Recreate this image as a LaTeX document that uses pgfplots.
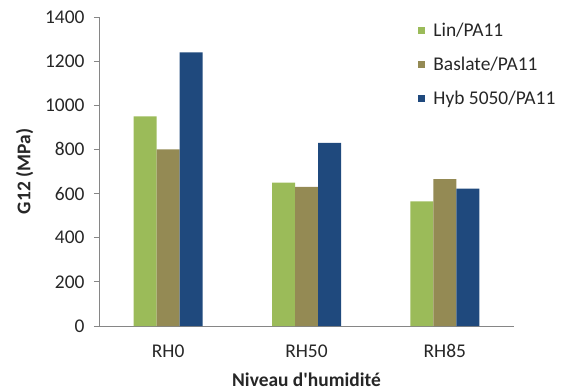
\documentclass[border=0pt]{standalone}
\usepackage{pgfplots}
\pgfplotsset{compat=1.18}
\usepackage{fontspec}
\setmainfont{Carlito}[Ligatures=TeXOff]
\definecolor{lin}{HTML}{9BBB59}
\definecolor{bas}{HTML}{948A54}
\definecolor{hyb}{HTML}{1F497D}
\definecolor{axgray}{HTML}{868686}
\newcommand{\fs}{\fontsize{19.5}{22}\selectfont}
\begin{document}
\begin{tikzpicture}
\begin{axis}[
    at={(0,0)}, anchor=south west,
    scale only axis,
    width=415bp, height=309bp,
    ybar=0pt, bar width=23bp,
    xmin=0, xmax=3,
    ymin=0, ymax=1400,
    ytick distance=200,
    xtick={0.5,1.5,2.5},
    xticklabels={RH0,RH50,RH85},
    axis x line*=bottom, axis y line*=left,
    axis line style={axgray, line width=0.8pt},
    x axis line style={-}, y axis line style={-},
    major x tick style={draw=none},
    major y tick style={axgray, line width=0.8pt},
    tick align=outside, major tick length=5bp,
    ticklabel style={font=\fs, text=black!85},
    /pgf/number format/assume math mode=true,
    /pgf/number format/1000 sep={},
    yticklabel style={xshift=-6bp},
    xticklabel style={yshift=-10bp},
    xlabel={\textbf{Niveau d'humidité}},
    ylabel={\textbf{G12 (MPa)}},
    label style={font=\fs, text=black!85},
    xlabel style={yshift=-8bp},
    ylabel style={yshift=5bp},
    legend style={at={(0.762,0.995)}, anchor=north west, draw=none, fill=none,
        font=\fs, text=black!85, row sep=15bp},
    legend cell align=left,
    legend image code/.code={\fill[#1] (0bp,-3.5bp) rectangle (7bp,3.5bp); \path (13bp,0bp);},
    clip=false,
]
\addplot[fill=lin, draw=none] coordinates {(0.5,950) (1.5,650) (2.5,565)};
\addplot[fill=bas, draw=none] coordinates {(0.5,800) (1.5,630) (2.5,666)};
\addplot[fill=hyb, draw=none] coordinates {(0.5,1240) (1.5,830) (2.5,622)};
\legend{Lin/PA11, Baslate/PA11, Hyb 5050/PA11}
\end{axis}
\pgfresetboundingbox
\path[use as bounding box] (-99bp,-66bp) rectangle (465bp,326bp);
\end{tikzpicture}
\end{document}
